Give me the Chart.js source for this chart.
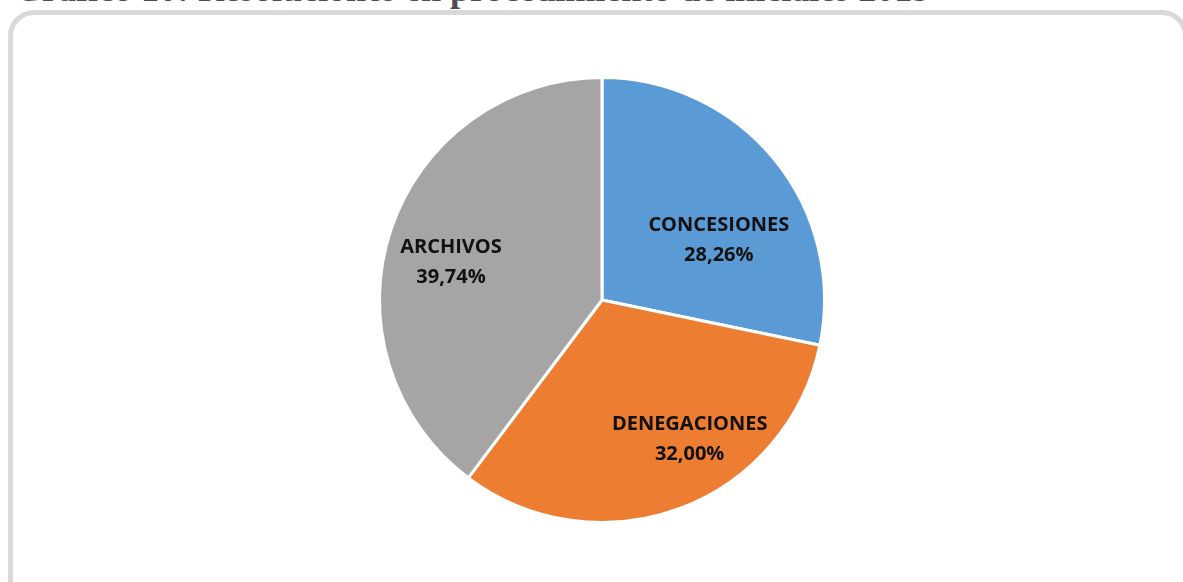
<!DOCTYPE html>
<html>
<head>
<meta charset="utf-8">
<script src="https://cdn.jsdelivr.net/npm/chart.js@4/dist/chart.umd.min.js"></script>
<style>
  html, body { margin: 0; padding: 0; background: #ffffff; }
  #wrap { position: relative; width: 1183px; height: 582px; overflow: hidden; background: #fff; }
  #title { position: absolute; left: 14px; top: -32px; font-family: "Liberation Serif", "Times New Roman", serif; font-weight: bold; font-size: 36px; color: #4d4d4d; white-space: nowrap; }
  #frame { position: absolute; left: 8px; top: 10px; width: 1170px; height: 620px; border: 5px solid #d9d9d9; border-radius: 26px; box-sizing: content-box; }
  #cv { position: absolute; left: 0; top: 0; }
</style>
</head>
<body>
<div id="wrap">
  <div id="title">Gráfico 10: Resoluciones en procedimiento de iniciales 2019</div>
  <div id="frame"></div>
  <canvas id="cv" width="1183" height="582"></canvas>
</div>
<script>
const categories = ["CONCESIONES", "DENEGACIONES", "ARCHIVOS"];
const values = [28.26, 32.00, 39.74];
const valueLabels = ["28,26%", "32,00%", "39,74%"];
const colors = ["#5B9BD5", "#ED7D31", "#A5A5A5"];

const labelOffsets = [
  {r: 0.59, da: 12},
  {r: 0.74, da: -11.5},
  {r: 0.70, da: -4.3}
];

const sliceLabels = {
  id: 'sliceLabels',
  afterDatasetsDraw(chart) {
    const ctx = chart.ctx;
    const meta = chart.getDatasetMeta(0);
    ctx.save();
    ctx.font = 'bold 20px "Open Sans", "Liberation Sans", sans-serif';
    ctx.fillStyle = '#111111';
    ctx.textAlign = 'center';
    ctx.textBaseline = 'middle';
    meta.data.forEach((arc, i) => {
      const p = arc.getProps(['x', 'y', 'startAngle', 'endAngle', 'outerRadius'], true);
      const o = labelOffsets[i];
      const mid = (p.startAngle + p.endAngle) / 2 + o.da * Math.PI / 180;
      const rr = p.outerRadius * o.r;
      const cx = p.x + Math.cos(mid) * rr;
      const cy = p.y + Math.sin(mid) * rr;
      ctx.fillText(categories[i], cx, cy - 15);
      ctx.fillText(valueLabels[i], cx, cy + 15);
    });
    ctx.restore();
  }
};

new Chart(document.getElementById('cv'), {
  type: 'pie',
  data: {
    labels: categories,
    datasets: [{
      data: values,
      backgroundColor: colors,
      borderColor: '#ffffff',
      borderWidth: 3
    }]
  },
  options: {
    responsive: false,
    animation: false,
    layout: { padding: { top: 76, bottom: 58, left: 100, right: 79 } },
    plugins: {
      legend: { display: false },
      tooltip: { enabled: false },
      title: { display: false }
    }
  },
  plugins: [sliceLabels]
});
</script>
</body>
</html>
